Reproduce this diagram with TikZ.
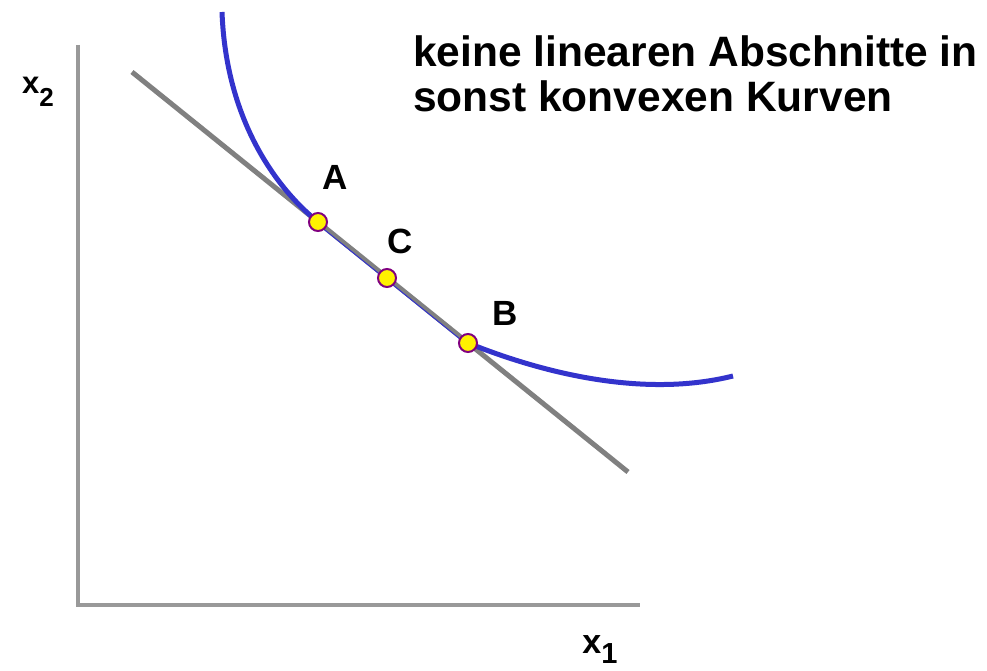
\documentclass[tikz,border=0pt]{standalone}
\usepackage{fontspec}
\setmainfont{Liberation Sans}
\usetikzlibrary{positioning}
\definecolor{curveblue}{HTML}{3333CC}
\definecolor{linegray}{HTML}{808080}
\definecolor{axisgray}{HTML}{999999}
\definecolor{dotpurple}{HTML}{800080}
\tikzset{
  pt/.style={circle,draw=dotpurple,fill=yellow,line width=2pt,minimum size=18pt,inner sep=0pt},
  lbl/.style={font=\fontsize{35}{40}\selectfont\bfseries,inner sep=0pt},
}
\begin{document}
\begin{tikzpicture}[x=1pt,y=-1pt]
		
		\useasboundingbox (0,0) rectangle (987,671);
		
		% axes
		\coordinate (o) at (78,605);
		\coordinate (ytop) at (78,45);
		\coordinate (xend) at (640,605);
		\draw[axisgray,line width=3.5pt] (ytop)--(o)--(xend);
		
		\node[inner sep=0pt,font=\fontsize{31}{31}\selectfont\bfseries] (x2) at (38,92)
		{x\raisebox{-13pt}{\fontsize{26}{26}\selectfont\bfseries 2}};
		\node[inner sep=0pt,font=\fontsize{34}{34}\selectfont\bfseries] (x1) at (600,650)
		{x\raisebox{-10pt}{\fontsize{29}{29}\selectfont\bfseries 1}};
		
		% budget line
		\coordinate (ls) at (132,72);
		\coordinate (le) at (628,472);
		\draw[linegray,line width=5pt] (ls)--(le);
		
		% curve
		\coordinate (top) at (222,12);
		\coordinate (pa) at (318,222);
		\coordinate (pc) at (387,278);
		\coordinate (pb) at (468,343);
		\coordinate (rend) at (733,376);
		\draw[curveblue,line width=5pt] (top) .. controls (226,120) and (276,188) .. (pa);
		\draw[curveblue,line width=1pt] ([yshift=-2.5pt]pa)--([yshift=-2.5pt]pb);
		\draw[curveblue,line width=5pt] (pb) .. controls (545,374) and (645,398) .. (rend);
		
		\node[pt] (A) at (pa) {};
		\node[pt] (C) at (pc) {};
		\node[pt] (B) at (pb) {};
		
		\node[lbl] (lA) at (335,177) {A};
		\node[lbl] (lC) at (400,241) {C};
		\node[lbl] (lB) at (505,313) {B};
		
		\node[lbl,anchor=north west,align=left,font=\fontsize{42.5}{45}\selectfont\bfseries] (txt) at (413,36)
		{keine linearen Abschnitte in\\sonst konvexen Kurven};
		
	\end{tikzpicture}
\end{document}
